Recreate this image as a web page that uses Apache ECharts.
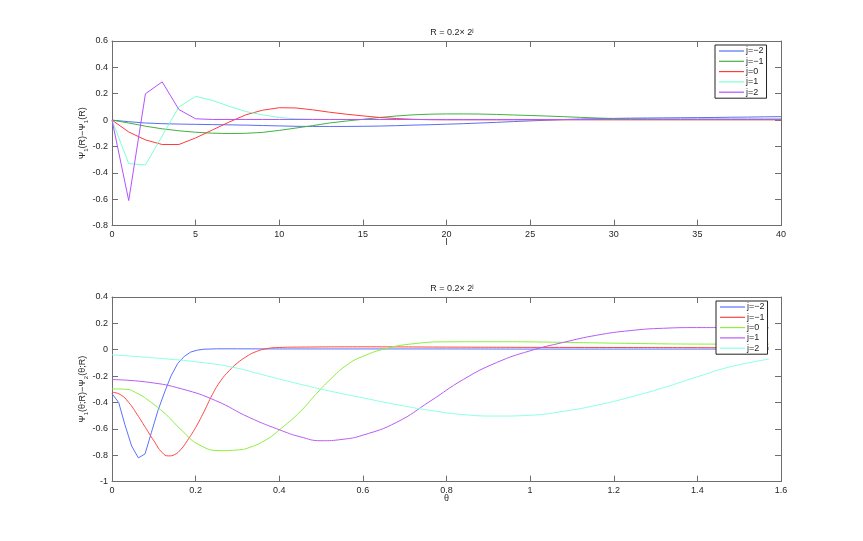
<!DOCTYPE html>
<html>
<head>
<meta charset="utf-8">
<script src="https://cdn.jsdelivr.net/npm/echarts@6/dist/echarts.min.js"></script>
<style>
  html, body { margin: 0; padding: 0; background: #fff; }
  .plot { position: absolute; left: 0; width: 863px; }
  #top { top: 0; height: 270px; }
  #bottom { top: 270px; height: 271px; }
</style>
</head>
<body>
<div id="top" class="plot"></div>
<div id="bottom" class="plot"></div>
<script>
// ---- top panel: sampled at l = 0..40 ----
var topL = [0,1,2,3,4,5,6,7,8,9,10,11,12,13,14,15,16,17,18,19,20,
  21,22,23,24,25,26,27,28,29,30,31,32,33,34,35,36,37,38,39,40]
var topNames = ['j=−2', 'j=−1', 'j=0', 'j=1', 'j=2']
var topColors = ['#5a6ef5', '#44b044', '#ff3b3b', '#7dffd0', '#b452ff']
var topJm2 = [0,-0.012,-0.022,-0.027,-0.03,-0.032,-0.034,-0.036,-0.038,-0.041,-0.044,
  -0.047,-0.048,-0.048,-0.048,-0.047,-0.045,-0.042,-0.038,-0.035,-0.031,
  -0.027,-0.022,-0.017,-0.011,-0.006,-0.001,0.004,0.008,0.011,0.013,
  0.015,0.016,0.017,0.018,0.019,0.02,0.022,0.023,0.025,0.026]
var topJm1 = [0,-0.022,-0.046,-0.066,-0.081,-0.092,-0.099,-0.102,-0.1,-0.093,-0.078,
  -0.06,-0.042,-0.022,-0.007,0.006,0.02,0.031,0.04,0.045,0.047,
  0.047,0.046,0.043,0.039,0.035,0.031,0.026,0.021,0.016,0.012,
  0.01,0.009,0.008,0.008,0.008,0.008,0.008,0.008,0.008,0.008]
var topJ0 = [0,-0.09,-0.15,-0.185,-0.185,-0.135,-0.075,-0.015,0.04,0.075,0.094,
  0.092,0.078,0.06,0.045,0.032,0.02,0.012,0.006,0.003,0.002,
  0.002,0.002,0.002,0.002,0.002,0.002,0.002,0.002,0.002,0.002,
  0.002,0.002,0.002,0.002,0.002,0.002,0.002,0.002,0.002,0.002]
var topJ1 = [0,-0.33,-0.34,-0.12,0.1,0.18,0.15,0.105,0.065,0.04,0.02,
  0.01,0.006,0.004,0.004,0.004,0.004,0.004,0.004,0.004,0.004,
  0.004,0.004,0.004,0.004,0.004,0.004,0.004,0.004,0.004,0.004,
  0.004,0.004,0.004,0.004,0.004,0.004,0.004,0.004,0.004,0.004]
var topJ2 = [0,-0.61,0.2,0.29,0.08,0.01,0.005,0.005,0.005,0.005,0.005,
  0.005,0.005,0.005,0.005,0.005,0.005,0.005,0.005,0.005,0.005,
  0.005,0.005,0.005,0.005,0.005,0.005,0.005,0.005,0.005,0.005,
  0.005,0.005,0.005,0.005,0.005,0.005,0.005,0.005,0.005,0.005]

// ---- bottom panel: theta from 0 to pi/2 ----
var botNames = ['j=−2', 'j=−1', 'j=0', 'j=1', 'j=2']
var botColors = ['#5a72ff', '#ff4444', '#8cf03a', '#b95cf5', '#8dffe6']
var botThJm2 = [0,0.016,0.031,0.047,0.063,0.079,0.094,0.11,0.126,0.141,0.157,0.173,0.188,0.204,0.22,0.25,0.3,0.4,0.6,0.8,1.0,1.2,1.4,1.571]
var botJm2 = [-0.333,-0.40,-0.57,-0.73,-0.82,-0.79,-0.63,-0.46,-0.32,-0.2,-0.105,-0.05,-0.018,-0.003,0.004,0.007,0.007,0.006,0.006,0.006,0.005,0.005,0.005,0.005]
var botThJm1 = [0,0.02,0.04,0.06,0.08,0.1,0.12,0.135,0.15,0.165,0.18,0.2,0.22,0.24,0.26,0.28,0.3,0.32,0.34,0.37,0.4,0.45,0.6,0.8,1.0,1.2,1.4,1.571]
var botJm1 = [-0.323,-0.34,-0.40,-0.49,-0.59,-0.69,-0.78,-0.805,-0.795,-0.755,-0.69,-0.59,-0.47,-0.34,-0.235,-0.16,-0.1,-0.055,-0.02,0.008,0.017,0.02,0.022,0.02,0.018,0.017,0.016,0.015]
var botThJ0 = [0,0.033,0.06,0.088,0.128,0.168,0.208,0.26,0.3,0.328,0.37,0.407,0.45,0.487,0.522,0.562,0.6,0.657,0.72,0.8,0.92,1.08,1.24,1.4,1.571]
var botJ0 = [-0.297,-0.30,-0.33,-0.386,-0.488,-0.615,-0.72,-0.765,-0.76,-0.742,-0.68,-0.59,-0.47,-0.34,-0.225,-0.115,-0.05,0.01,0.045,0.06,0.061,0.056,0.048,0.043,0.042]
var botThJ1 = [0,0.088,0.168,0.248,0.328,0.407,0.45,0.5,0.55,0.6,0.681,0.761,0.841,0.92,1.0,1.08,1.159,1.239,1.319,1.398,1.48,1.571]
var botJ1 = [-0.226,-0.247,-0.298,-0.386,-0.513,-0.615,-0.66,-0.69,-0.68,-0.648,-0.55,-0.39,-0.224,-0.097,-0.008,0.056,0.11,0.145,0.163,0.168,0.168,0.166]
var botThJ2 = [0,0.128,0.208,0.288,0.368,0.447,0.522,0.6,0.681,0.761,0.841,0.92,1.0,1.08,1.159,1.239,1.319,1.398,1.478,1.571]
var botJ2 = [-0.038,-0.069,-0.094,-0.132,-0.196,-0.259,-0.314,-0.365,-0.416,-0.46,-0.492,-0.503,-0.497,-0.467,-0.421,-0.36,-0.288,-0.207,-0.13,-0.071]

var FONT = 'Liberation Sans'
var AXIS_COLOR = '#6e6e6e'
var TEXT_COLOR = '#262626'

function pairs(xs, ys) {
  return xs.map(function (x, i) { return [x, ys[i]] })
}

function boxAxis(position, min, max, interval, main, name) {
  var axis = {
    type: 'value',
    position: position,
    min: min,
    max: max,
    interval: interval,
    splitLine: { show: false },
    axisLine: { show: true, onZero: false, lineStyle: { color: AXIS_COLOR, width: 1 } },
    axisTick: { show: true, inside: true, length: 6, lineStyle: { color: AXIS_COLOR } },
    axisLabel: { show: main, fontFamily: FONT, fontSize: 9, color: TEXT_COLOR, margin: 4 }
  }
  if (main && name) {
    axis.name = name.text
    axis.nameLocation = 'middle'
    axis.nameGap = name.gap
    axis.nameMoveOverlap = false
    axis.nameTextStyle = name.style
  }
  return axis
}

function makeOption(p) {
  var series = p.series.map(function (s, i) {
    return {
      name: p.names[i],
      type: 'line',
      symbol: 'none',
      smooth: s.smooth,
      animation: false,
      lineStyle: { color: p.colors[i], width: 1 },
      itemStyle: { color: p.colors[i] },
      data: s.data
    }
  })
  return {
    backgroundColor: '#fff',
    title: {
      text: '{a|R = 0.2× 2}{b|j}',
      left: 447,
      textAlign: 'center',
      top: p.titleTop,
      textStyle: {
        fontWeight: 'normal',
        rich: {
          a: { fontFamily: FONT, fontSize: 9, fontWeight: 'normal', color: TEXT_COLOR },
          b: { fontFamily: FONT, fontSize: 6, fontWeight: 'normal', color: TEXT_COLOR, padding: [0, 0, 6, 0] }
        }
      }
    },
    legend: {
      orient: 'vertical',
      left: p.legendLeft,
      top: p.legendTop,
      backgroundColor: '#fff',
      borderColor: '#222',
      borderWidth: 1,
      borderRadius: 0,
      padding: [1, 3, 1, 4],
      icon: 'rect',
      itemWidth: 25,
      itemHeight: 1.2,
      itemGap: 0.3,
      selectedMode: false,
      textStyle: { fontFamily: FONT, fontSize: 9, color: TEXT_COLOR, lineHeight: 10, padding: [0, 0, 0, -3] },
      data: p.names
    },
    grid: { left: 112, right: 82, top: p.gridTop, height: 184.6 },
    xAxis: [
      boxAxis('bottom', p.xMin, p.xMax, p.xStep, true,
        { text: p.xName, gap: p.xNameGap, style: { fontFamily: FONT, fontSize: 9, color: TEXT_COLOR } }),
      boxAxis('top', p.xMin, p.xMax, p.xStep, false)
    ],
    yAxis: [
      boxAxis('left', p.yMin, p.yMax, 0.2, true,
        { text: p.yName, gap: 22, style: p.yNameStyle }),
      boxAxis('right', p.yMin, p.yMax, 0.2, false)
    ],
    series: series
  }
}

var subRich = {
  a: { fontFamily: FONT, fontSize: 9, color: TEXT_COLOR, lineHeight: 14 },
  s: { fontFamily: FONT, fontSize: 6, color: TEXT_COLOR, lineHeight: 14, padding: [6, 0, 0, 0] }
}

var topChart = echarts.init(document.getElementById('top'))
topChart.setOption(makeOption({
  names: topNames,
  colors: topColors,
  titleTop: 22,
  gridTop: 41,
  legendLeft: 715,
  legendTop: 45,
  xMin: 0, xMax: 40, xStep: 5, xName: 'l', xNameGap: 12,
  yMin: -0.8, yMax: 0.6,
  yName: '{a|Ψ}{s|1}{a|(R)−Ψ}{s|1}{a|(R)}',
  yNameStyle: { rich: subRich },
  series: [
    { data: pairs(topL, topJm2), smooth: false },
    { data: pairs(topL, topJm1), smooth: false },
    { data: pairs(topL, topJ0), smooth: false },
    { data: pairs(topL, topJ1), smooth: false },
    { data: pairs(topL, topJ2), smooth: false }
  ]
}))

var botChart = echarts.init(document.getElementById('bottom'))
botChart.setOption(makeOption({
  names: botNames,
  colors: botColors,
  titleTop: 8,
  gridTop: 27,
  legendLeft: 716,
  legendTop: 31,
  xMin: 0, xMax: 1.6, xStep: 0.2, xName: 'θ', xNameGap: 12,
  yMin: -1, yMax: 0.4,
  yName: '{a|Ψ}{s|1}{a|(θ;R)−Ψ}{s|2}{a|(θ;R)}',
  yNameStyle: { rich: subRich },
  series: [
    { data: pairs(botThJm2, botJm2), smooth: false },
    { data: pairs(botThJm1, botJm1), smooth: 0.5 },
    { data: pairs(botThJ0, botJ0), smooth: 0.5 },
    { data: pairs(botThJ1, botJ1), smooth: 0.5 },
    { data: pairs(botThJ2, botJ2), smooth: 0.5 }
  ]
}))
</script>
</body>
</html>
